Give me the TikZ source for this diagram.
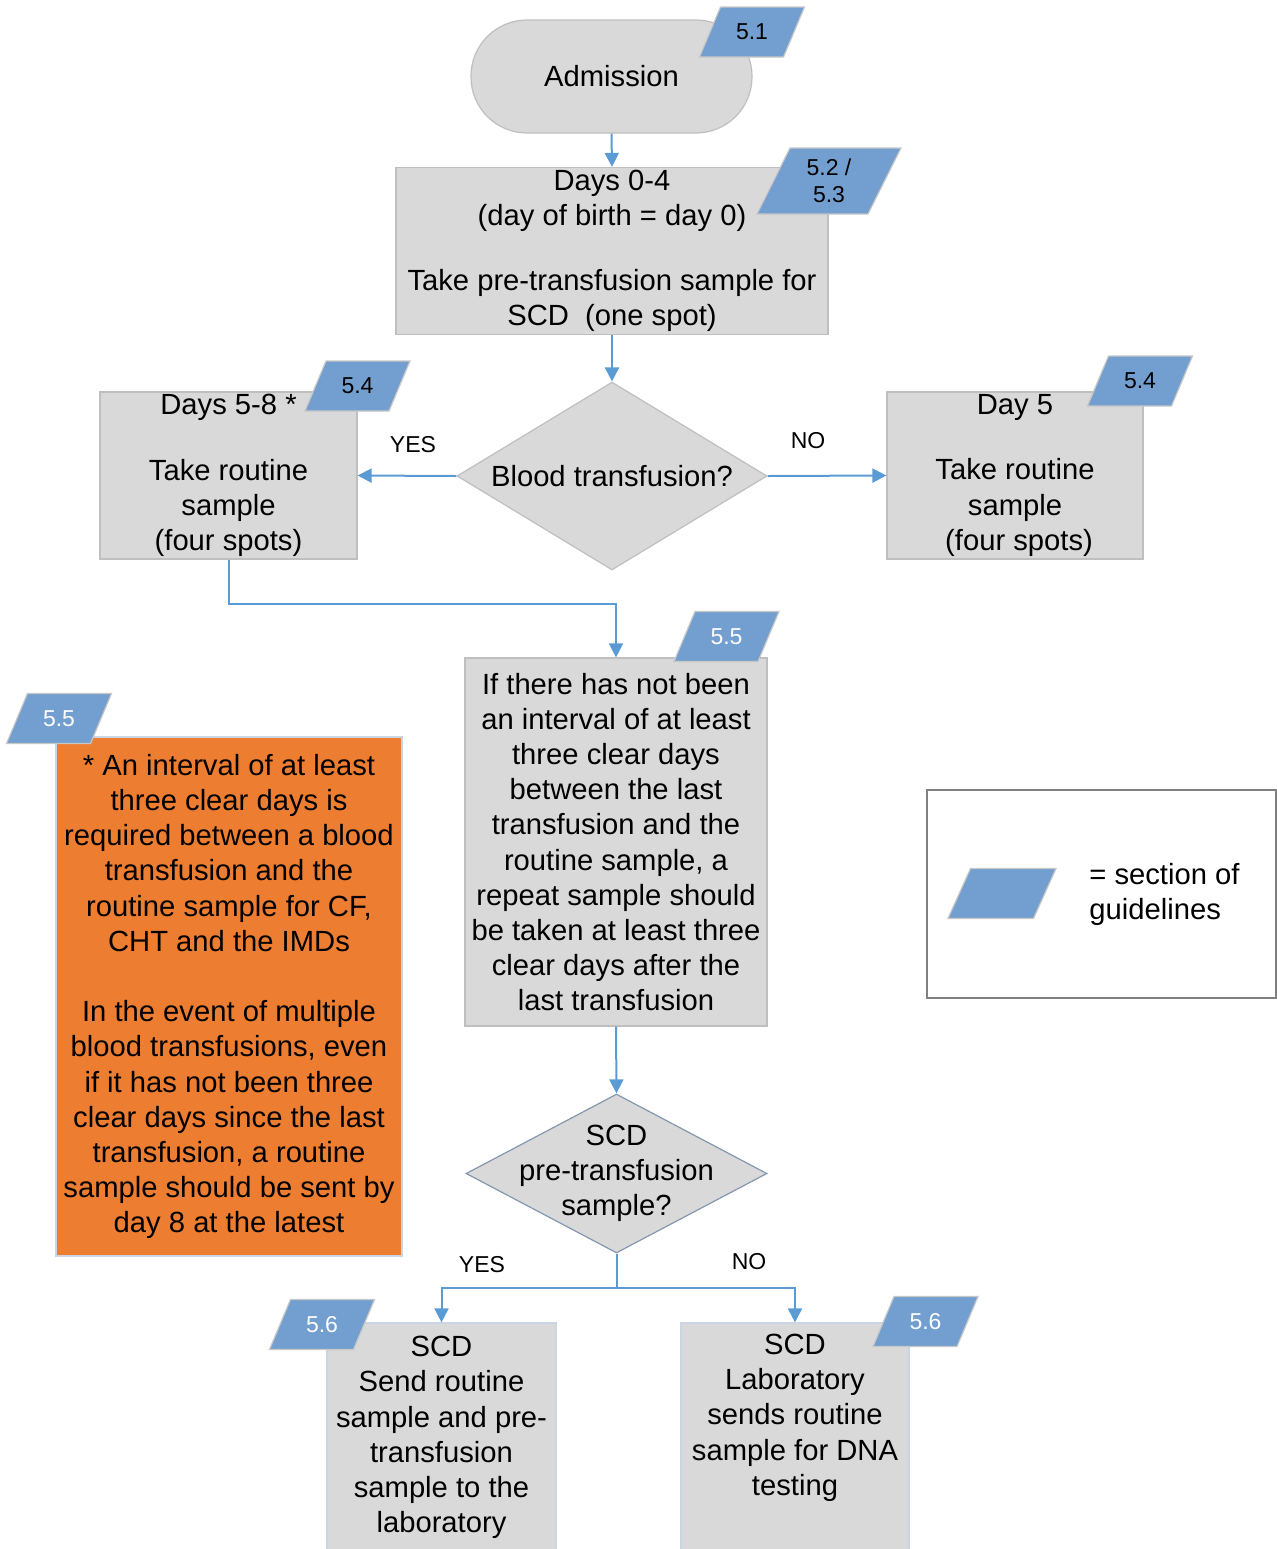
\documentclass[tikz,border=0pt]{standalone}
\usepackage{fontspec}
\setmainfont{Liberation Sans}
\usetikzlibrary{shapes.geometric,arrows.meta,calc}
\definecolor{boxgrey}{HTML}{D9D9D9}
\definecolor{boxline}{HTML}{BFBFBF}
\definecolor{tagblue}{HTML}{729FCF}
\definecolor{arrowblue}{HTML}{5B9BD5}
\definecolor{orangebox}{HTML}{ED7D31}
\definecolor{diaedge}{HTML}{8497B0}
\definecolor{paleblue}{HTML}{C9D6E6}
\begin{document}
\begin{tikzpicture}[x=0.5pt,y=-0.5pt,
  main/.style={font=\fontsize{14.6pt}{17.6pt}\selectfont, align=center, text=black},
  greybox/.style={main, rectangle, fill=boxgrey, draw=boxline, line width=0.6pt, inner sep=0pt},
  dia/.style={diamond, fill=boxgrey, draw=boxline, line width=0.6pt, inner sep=0pt},
  tagfill/.style={fill=tagblue, draw=black!22, line width=0.6pt},
  tagtext/.style={font=\fontsize{11.5pt}{14.5pt}\selectfont, align=center, inner sep=0pt},
  whitetag/.style={tagtext, text=white},
  lab/.style={font=\fontsize{11.5pt}{14pt}\selectfont, inner sep=0pt},
  arr/.style={draw=arrowblue, line width=1pt, -{Triangle[length=7pt,width=7pt]}},
  conn/.style={draw=arrowblue, line width=1pt}
]
\useasboundingbox (0,0) rectangle (1277,1549);

% boxes
\node[greybox, rounded corners=28pt, minimum width=140.5pt, minimum height=56.5pt] (adm) at (611.5,76.5) {Admission};
\node[greybox, minimum width=216pt, minimum height=83.5pt] (days) at (612,251)
  {Days 0-4\\(day of birth = day 0)\\[15pt]Take pre-transfusion sample for\\SCD\ \ (one spot)};
\node[greybox, minimum width=128.5pt, minimum height=83.5pt] (left) at (228.5,475.5)
  {Days 5-8 *\\[15pt]Take routine\\sample\\(four spots)};
\node[greybox, minimum width=128pt, minimum height=83.5pt] (right) at (1015,475.5)
  {Day 5\\[15pt]Take routine\\sample\\\ (four spots)};
\node[dia, minimum width=155pt, minimum height=94pt] (blood) at (612,476) {};
\node[main] (bloodt) at (blood.center) {Blood transfusion?};
\node[greybox, minimum width=151pt, minimum height=184pt] (mid) at (616,842)
  {If there has not been\\an interval of at least\\three clear days\\between the last\\transfusion and the\\routine sample, a\\repeat sample should\\be taken at least three\\clear days after the\\last transfusion};
\node[dia, draw=diaedge, minimum width=150.5pt, minimum height=79.5pt] (scd) at (616.5,1173.5) {};
\node[main] (scdt) at (scd.center) {SCD\\pre-transfusion\\sample?};
\node[greybox, fill=orangebox, draw=paleblue, minimum width=173pt, minimum height=259.5pt] (orange) at (229,996.5)
  {* An interval of at least\\three clear days is\\required between a blood\\transfusion and the\\routine sample for CF,\\CHT and the IMDs\\[17.6pt]In the event of multiple\\blood transfusions, even\\if it has not been three\\clear days since the last\\transfusion, a routine\\sample should be sent by\\day 8 at the latest};
\node[rectangle, draw=black!50, line width=0.6pt, minimum width=174.5pt, minimum height=104pt, inner sep=0pt] (legend) at (1101.5,894) {};
\node[main, align=left, anchor=west, inner sep=0pt] (legendt) at (1089,894.5) {= section of\\guidelines};
\node[greybox, draw=paleblue, minimum width=114.5pt, minimum height=114.5pt] (bl) at (441.5,1437.5)
  {SCD\\Send routine\\sample and pre-\\transfusion\\sample to the\\laboratory};
\node[greybox, draw=paleblue, minimum width=114pt, minimum height=114.5pt] (br) at (795,1437.5)
  {SCD\\Laboratory\\sends routine\\sample for DNA\\testing\\\strut};

% tags (section of guidelines)
\draw[tagfill, shift={(752,32)}] (-31.5,-25) -- (52.5,-25) -- (31.5,25) -- (-52.5,25) -- cycle;
\node[tagtext] (t51) at (752,32) {5.1};
\draw[tagfill, shift={(829,181)}] (-39,-33) -- (72,-33) -- (39,33) -- (-72,33) -- cycle;
\node[tagtext] (t52) at (829,181) {5.2 /\\[-1pt]5.3};
\draw[tagfill, shift={(357.5,386)}] (-31.5,-25) -- (52.5,-25) -- (31.5,25) -- (-52.5,25) -- cycle;
\node[tagtext] (t54a) at (357.5,386) {5.4};
\draw[tagfill, shift={(1140,381)}] (-31.5,-25) -- (52.5,-25) -- (31.5,25) -- (-52.5,25) -- cycle;
\node[tagtext] (t54b) at (1140,381) {5.4};
\draw[tagfill, shift={(726.5,636.5)}] (-31.5,-25) -- (52.5,-25) -- (31.5,25) -- (-52.5,25) -- cycle;
\node[whitetag] (t55a) at (726.5,636.5) {5.5};
\draw[tagfill, shift={(59,718.5)}] (-31.5,-25) -- (52.5,-25) -- (31.5,25) -- (-52.5,25) -- cycle;
\node[whitetag] (t55b) at (59,718.5) {5.5};
\draw[tagfill, shift={(322,1324.5)}] (-31.5,-25) -- (52.5,-25) -- (31.5,25) -- (-52.5,25) -- cycle;
\node[whitetag] (t56a) at (322,1324.5) {5.6};
\draw[tagfill, shift={(925.5,1321.5)}] (-31.5,-25) -- (52.5,-25) -- (31.5,25) -- (-52.5,25) -- cycle;
\node[whitetag] (t56b) at (925.5,1321.5) {5.6};
\draw[tagfill, shift={(1002,893.5)}] (-31.5,-25) -- (54,-25) -- (31.5,25) -- (-54,25) -- cycle;

% connectors
\draw[arr] (adm.south) -- (days.north);
\draw[arr] (days.south) -- (blood.north);
\draw[arr] (blood.west) -- (left.east);
\draw[arr] (blood.east) -- (right.west);
\draw[arr] (left.south) -- ++(0,44) -| (mid.north);
\draw[arr] (mid.south) -- (scd.north);
\coordinate (split) at ($(scd.south)+(0,34)$);
\draw[conn] (scd.south) -- (split);
\draw[arr] (split) -| (bl.north);
\draw[arr] (split) -| (br.north);

% labels
\node[lab] (yes1) at (413,445) {YES};
\node[lab] (no1) at (808,441) {NO};
\node[lab] (yes2) at (482,1265) {YES};
\node[lab] (no2) at (749,1262) {NO};
\end{tikzpicture}
\end{document}
